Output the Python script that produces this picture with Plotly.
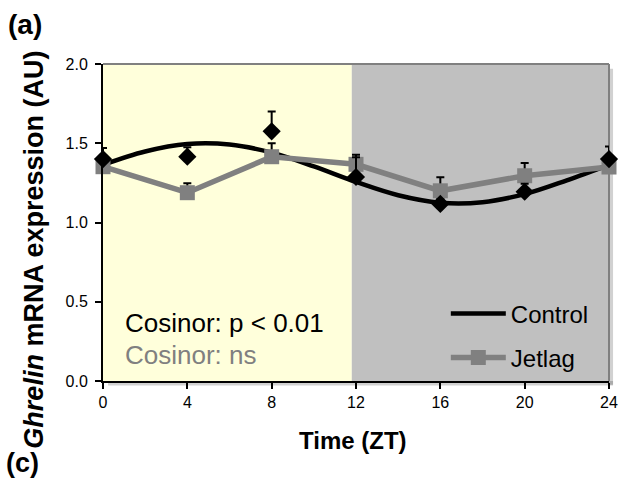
import plotly.graph_objects as go

# ---- data ----
zt = [0, 4, 8, 12, 16, 20, 24]
control_mean = [1.40, 1.415, 1.575, 1.287, 1.117, 1.194, 1.40]
control_err = [0.07, 0.06, 0.125, 0.125, 0.03, 0.05, 0.08]
jetlag_mean = [1.352, 1.188, 1.415, 1.367, 1.20, 1.295, 1.35]
jetlag_err = [0.05, 0.06, 0.085, 0.06, 0.085, 0.08, 0.05]

# cosinor fit curve for Control
fit_t = [0, 2, 4, 6, 8, 10, 12, 14, 16, 18, 20, 22, 24]
fit_y = [1.364, 1.448, 1.495, 1.492, 1.441, 1.354, 1.256, 1.172, 1.125, 1.128, 1.179, 1.266, 1.364]

x_ticks = [0, 4, 8, 12, 16, 20, 24]
y_ticks = [0.0, 0.5, 1.0, 1.5, 2.0]
light_end = 11.8

FONT = "Arial, 'Liberation Sans', sans-serif"
YELLOW = "#FFFFDB"
GREY_BG = "#C0C0C0"
GREY = "#808080"

fig = go.Figure()

fig.add_trace(go.Scatter(
    x=fit_t, y=fit_y, mode="lines", name="Control",
    line=dict(color="black", width=4.5, shape="spline", smoothing=1.0),
    legendgroup="c", hoverinfo="skip", cliponaxis=False))

fig.add_trace(go.Scatter(
    x=zt, y=jetlag_mean, mode="lines+markers", name="Jetlag",
    line=dict(color=GREY, width=5.5),
    marker=dict(symbol="square", size=15, color=GREY),
    error_y=dict(type="data", array=jetlag_err, symmetric=False,
                 arrayminus=[0] * len(zt), color="black", thickness=2, width=4),
    legendgroup="j", cliponaxis=False))

fig.add_trace(go.Scatter(
    x=zt, y=control_mean, mode="markers", name="Control data",
    marker=dict(symbol="diamond", size=14, color="black"),
    error_y=dict(type="data", array=control_err, symmetric=False,
                 arrayminus=[0] * len(zt), color="black", thickness=2, width=4),
    showlegend=False, cliponaxis=False))

shapes = [
    dict(type="rect", xref="x", yref="paper", x0=0, x1=light_end, y0=0, y1=1,
         fillcolor=YELLOW, line=dict(width=0), layer="below"),
    dict(type="rect", xref="x", yref="paper", x0=light_end, x1=24, y0=0, y1=1,
         fillcolor=GREY_BG, line=dict(width=0), layer="below"),
    # shadow
    dict(type="rect", xref="paper", yref="paper", x0=1.0, x1=1.008, y0=-0.012, y1=0.985,
         fillcolor="rgba(0,0,0,0.18)", line=dict(width=0), layer="below"),
    dict(type="rect", xref="paper", yref="paper", x0=0.01, x1=1.008, y0=-0.014, y1=0.0,
         fillcolor="rgba(0,0,0,0.18)", line=dict(width=0), layer="below"),
    # frame top/right
    dict(type="line", xref="paper", yref="paper", x0=0, x1=1, y0=1, y1=1,
         line=dict(color=GREY, width=2), layer="below"),
    dict(type="line", xref="paper", yref="paper", x0=1, x1=1, y0=0, y1=1,
         line=dict(color=GREY, width=2), layer="below"),
]

annotations = [
    dict(text="Cosinor: p < 0.01", x=0.95, y=0.366, xref="x", yref="y",
         xanchor="left", yanchor="middle", showarrow=False,
         font=dict(family=FONT, size=26, color="black")),
    dict(text="Cosinor: ns", x=0.95, y=0.164, xref="x", yref="y",
         xanchor="left", yanchor="middle", showarrow=False,
         font=dict(family=FONT, size=26, color=GREY)),
    dict(text="<b>Time (ZT)</b>", x=0.494, y=-0.189, xref="paper", yref="paper",
         xanchor="center", yanchor="middle", showarrow=False,
         font=dict(family=FONT, size=24, color="black")),
    dict(text="<b><i>Ghrelin</i> mRNA expression (AU)</b>", x=-0.136, y=0.415,
         xref="paper", yref="paper", xanchor="center", yanchor="middle",
         textangle=-90, showarrow=False,
         font=dict(family=FONT, size=27, color="black")),
    dict(text="<b>(a)</b>", x=-0.192, y=1.126, xref="paper", yref="paper",
         xanchor="left", yanchor="middle", showarrow=False,
         font=dict(family=FONT, size=28, color="black")),
    dict(text="<b>(c)</b>", x=-0.196, y=-0.258, xref="paper", yref="paper",
         xanchor="left", yanchor="middle", showarrow=False,
         font=dict(family=FONT, size=27, color="black")),
]

fig.update_layout(
    width=623, height=480, autosize=False,
    margin=dict(l=103, r=14, t=64, b=99, autoexpand=False),
    paper_bgcolor="white", plot_bgcolor="white",
    font=dict(family=FONT, size=16, color="black"),
    shapes=shapes, annotations=annotations,
    showlegend=True,
    legend=dict(x=0.97, y=0.283, xanchor="right", yanchor="top",
                bgcolor="rgba(0,0,0,0)", font=dict(family=FONT, size=24),
                traceorder="grouped", tracegroupgap=10, itemwidth=55),
    xaxis=dict(range=[0, 24], tickvals=x_ticks, ticktext=[str(v) for v in x_ticks],
               showgrid=False, zeroline=False, showline=True, linecolor="black",
               linewidth=2, ticks="outside", ticklen=6, tickwidth=2, tickcolor="black",
               tickfont=dict(size=16), automargin=False),
    yaxis=dict(range=[0, 2], tickvals=y_ticks, ticktext=[f"{v:.1f}" for v in y_ticks],
               showgrid=False, zeroline=False, showline=True, linecolor="black",
               linewidth=2, ticks="outside", ticklen=6, tickwidth=2, tickcolor="black",
               tickfont=dict(size=16), automargin=False, ticklabelstandoff=4),
)

fig.write_html("out.html")
